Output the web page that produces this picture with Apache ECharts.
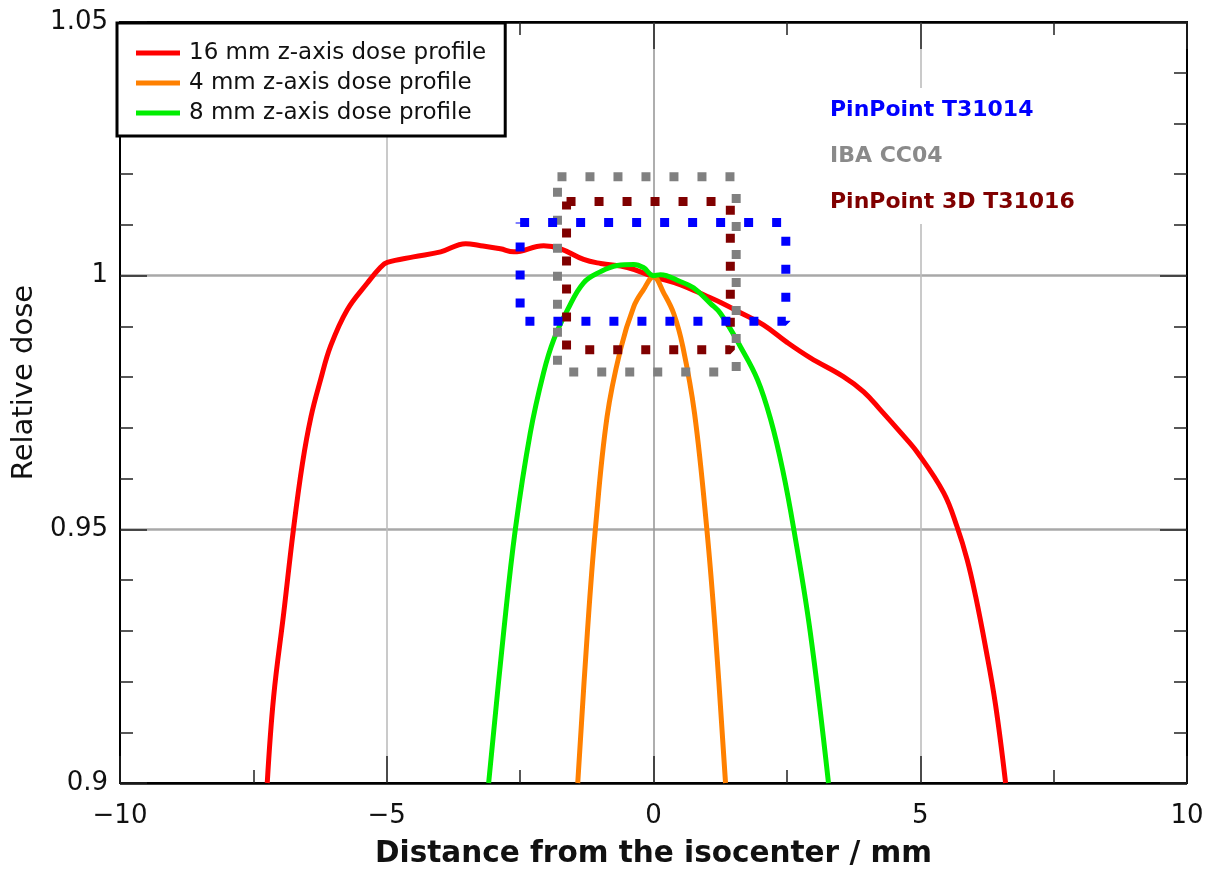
<!DOCTYPE html>
<html>
<head>
<meta charset="utf-8">
<script src="https://cdn.jsdelivr.net/npm/echarts@6/dist/echarts.min.js"></script>
<style>html,body{margin:0;padding:0;background:#fff;}#c{width:1215px;height:871px;}</style>
</head>
<body>
<div id="c"></div>
<script>
// ---- data ----
const redX = [-7.24, -7.12, -6.93, -6.75, -6.58, -6.42, -6.24, -6.05, -5.74, -5.36, -5.12, -4.99, -4.5, -3.99, -3.52, -3.24, -2.87, -2.62, -2.06, -1.74, -1.31, -0.99, -0.49, 0, 0.51, 1.01, 1.26, 1.63, 2.06, 2.51, 2.94, 3.56, 3.94, 4.25, 4.63, 4.95, 5.44, 5.69, 5.88, 6.04, 6.22, 6.41, 6.6];
const redY = [0.9, 0.917, 0.9336, 0.9499, 0.963, 0.9722, 0.9795, 0.9862, 0.9933, 0.9986, 1.0016, 1.0026, 1.0037, 1.0047, 1.0063, 1.0059, 1.0053, 1.0047, 1.0059, 1.0053, 1.0032, 1.0024, 1.0016, 0.9998, 0.9982, 0.9959, 0.9947, 0.9927, 0.9903, 0.9868, 0.9838, 0.9801, 0.9771, 0.9736, 0.9691, 0.9651, 0.9572, 0.9505, 0.944, 0.9367, 0.927, 0.9155, 0.9];
const orangeX = [-1.42, -1.24, -1.09, -0.87, -0.62, -0.37, -0.19, 0, 0.19, 0.38, 0.55, 0.77, 1.0, 1.16, 1.35];
const orangeY = [0.9, 0.9296, 0.95, 0.9722, 0.9854, 0.9939, 0.9972, 0.9998, 0.9966, 0.9925, 0.986, 0.9728, 0.95, 0.9296, 0.9];
const greenX = [-3.09, -2.81, -2.59, -2.31, -2.06, -1.87, -1.61, -1.31, -0.99, -0.68, -0.37, -0.19, 0, 0.13, 0.51, 0.75, 1.07, 1.26, 1.63, 1.95, 2.2, 2.42, 2.63, 2.94, 3.28];
const greenY = [0.9, 0.9296, 0.95, 0.969, 0.9809, 0.9874, 0.9933, 0.9986, 1.0008, 1.002, 1.0022, 1.0016, 1.0, 1.0002, 0.9988, 0.9976, 0.9945, 0.9925, 0.986, 0.9795, 0.9715, 0.9618, 0.95, 0.9296, 0.9];
// detector outlines (x-range and y-range)
const pinpointX = [-2.5, 2.48];
const pinpointY = [0.991, 1.0105];
const ibaX = [-1.8, 1.55];
const ibaY = [0.981, 1.0195];
const pp3dX = [-1.63, 1.44];
const pp3dY = [0.9854, 1.0146];
const curveNames = ['16 mm z-axis dose profile', '4 mm z-axis dose profile', '8 mm z-axis dose profile'];
const detectorNames = ['PinPoint T31014', 'IBA CC04', 'PinPoint 3D T31016'];
const xTickValues = [-10, -5, 0, 5, 10];
const xTickLabels = ['\u221210', '\u22125', '0', '5', '10'];
const yTickValues = [0.9, 0.95, 1.0, 1.05];
const yTickLabels = ['0.9', '0.95', '1', '1.05'];

// ---- build ----
const zip = (xs, ys) => xs.map((x, i) => [x, ys[i]]);
const rect = (xs, ys) => [[xs[0], ys[1]], [xs[1], ys[1]], [xs[1], ys[0]], [xs[0], ys[0]], [xs[0], ys[1]]];
const FONT = 'DejaVu Sans';
function lookup(vals, labels, v) {
  for (let i = 0; i < vals.length; i++) if (Math.abs(vals[i] - v) < 1e-6) return labels[i];
  return '';
}
function curve(name, data, color) {
  return { name, type: 'line', data, xAxisIndex: 0, yAxisIndex: 0, showSymbol: false, smooth: 0.4,
    color, lineStyle: { color, width: 5 }, z: 3 };
}
function dots(name, data, color) {
  return { name, type: 'line', data, xAxisIndex: 0, yAxisIndex: 0, showSymbol: false, color,
    lineStyle: { color, width: 9, type: [9, 19], cap: 'butt' }, z: 4 };
}
const tickStyle = { color: '#222', width: 1.5 };
const chart = echarts.init(document.getElementById('c'), null, { renderer: 'canvas' });
chart.setOption({
  animation: false,
  backgroundColor: '#fff',
  grid: { left: 120, right: 28, top: 22, bottom: 88, containLabel: false, outerBoundsMode: 'none' },
  legend: [
    {
      data: curveNames, orient: 'vertical', left: 117, top: 23, icon: 'rect', itemWidth: 44, itemHeight: 5,
      itemGap: 6, padding: [18, 19, 11, 19], borderColor: '#000', borderWidth: 3, backgroundColor: '#fff',
      selectedMode: false, z: 10,
      textStyle: { fontFamily: FONT, fontSize: 23, color: '#111', lineHeight: 24, padding: [0, 0, 0, 4] }
    },
    {
      data: [
        { name: detectorNames[0], textStyle: { color: '#0000ff' } },
        { name: detectorNames[1], textStyle: { color: '#8a8a8a' } },
        { name: detectorNames[2], textStyle: { color: '#800000' } }
      ],
      orient: 'vertical', left: 818, top: 88, itemWidth: 0, itemHeight: 0, itemGap: 22,
      padding: [10, 10, 10, 6], backgroundColor: '#fff', selectedMode: false, z: 10,
      textStyle: { fontFamily: FONT, fontSize: 22, fontWeight: 'bold', lineHeight: 24 }
    }
  ],
  xAxis: [
    {
      type: 'value', min: -10, max: 10, interval: 5, position: 'bottom',
      axisLine: { show: true, onZero: false, lineStyle: { color: '#000', width: 2 } },
      axisTick: { show: true, inside: true, length: 27, lineStyle: tickStyle },
      minorTick: { show: true, splitNumber: 2, length: 13, lineStyle: tickStyle },
      splitLine: { show: true, lineStyle: { color: ['#000', '#bdbdbd', '#9a9a9a', '#bdbdbd', '#000'], width: 1.6 } },
      axisLabel: { fontFamily: FONT, fontSize: 26, color: '#111', margin: 20,
        formatter: v => lookup(xTickValues, xTickLabels, v) },
      name: 'Distance from the isocenter / mm', nameLocation: 'middle', nameGap: 56,
      nameTextStyle: { fontFamily: FONT, fontSize: 29.5, fontWeight: 'bold', color: '#111' }
    },
    {
      type: 'value', min: -10, max: 10, interval: 5, position: 'top',
      axisLine: { show: true, onZero: false, lineStyle: { color: '#000', width: 2 } },
      axisTick: { show: true, inside: true, length: 27, lineStyle: tickStyle },
      minorTick: { show: true, splitNumber: 2, length: 13, lineStyle: tickStyle },
      splitLine: { show: false }, axisLabel: { show: false }
    }
  ],
  yAxis: [
    {
      type: 'value', min: 0.9, max: 1.05, interval: 0.05, position: 'left',
      axisLine: { show: true, onZero: false, lineStyle: { color: '#000', width: 2 } },
      axisTick: { show: true, inside: true, length: 27, lineStyle: tickStyle },
      minorTick: { show: true, splitNumber: 5, length: 13, lineStyle: tickStyle },
      splitLine: { show: true, lineStyle: { color: ['#000', '#a8a8a8', '#a8a8a8', '#000'], width: 2.5 } },
      axisLabel: { fontFamily: FONT, fontSize: 26, color: '#111', margin: 12,
        formatter: v => lookup(yTickValues, yTickLabels, v) },
      name: 'Relative dose', nameLocation: 'middle', nameGap: 78, nameRotate: 90,
      nameTextStyle: { fontFamily: FONT, fontSize: 29, color: '#111', padding: [0, 0, 0, 40] }
    },
    {
      type: 'value', min: 0.9, max: 1.05, interval: 0.05, position: 'right',
      axisLine: { show: true, onZero: false, lineStyle: { color: '#000', width: 2 } },
      axisTick: { show: true, inside: true, length: 27, lineStyle: tickStyle },
      minorTick: { show: true, splitNumber: 5, length: 13, lineStyle: tickStyle },
      splitLine: { show: false }, axisLabel: { show: false }
    }
  ],
  series: [
    curve(curveNames[0], zip(redX, redY), '#ff0000'),
    curve(curveNames[1], zip(orangeX, orangeY), '#ff8000'),
    curve(curveNames[2], zip(greenX, greenY), '#00ee00'),
    dots(detectorNames[1], rect(ibaX, ibaY), '#808080'),
    dots(detectorNames[2], rect(pp3dX, pp3dY), '#800000'),
    dots(detectorNames[0], rect(pinpointX, pinpointY), '#0000ff')
  ]
});
</script>
</body>
</html>
